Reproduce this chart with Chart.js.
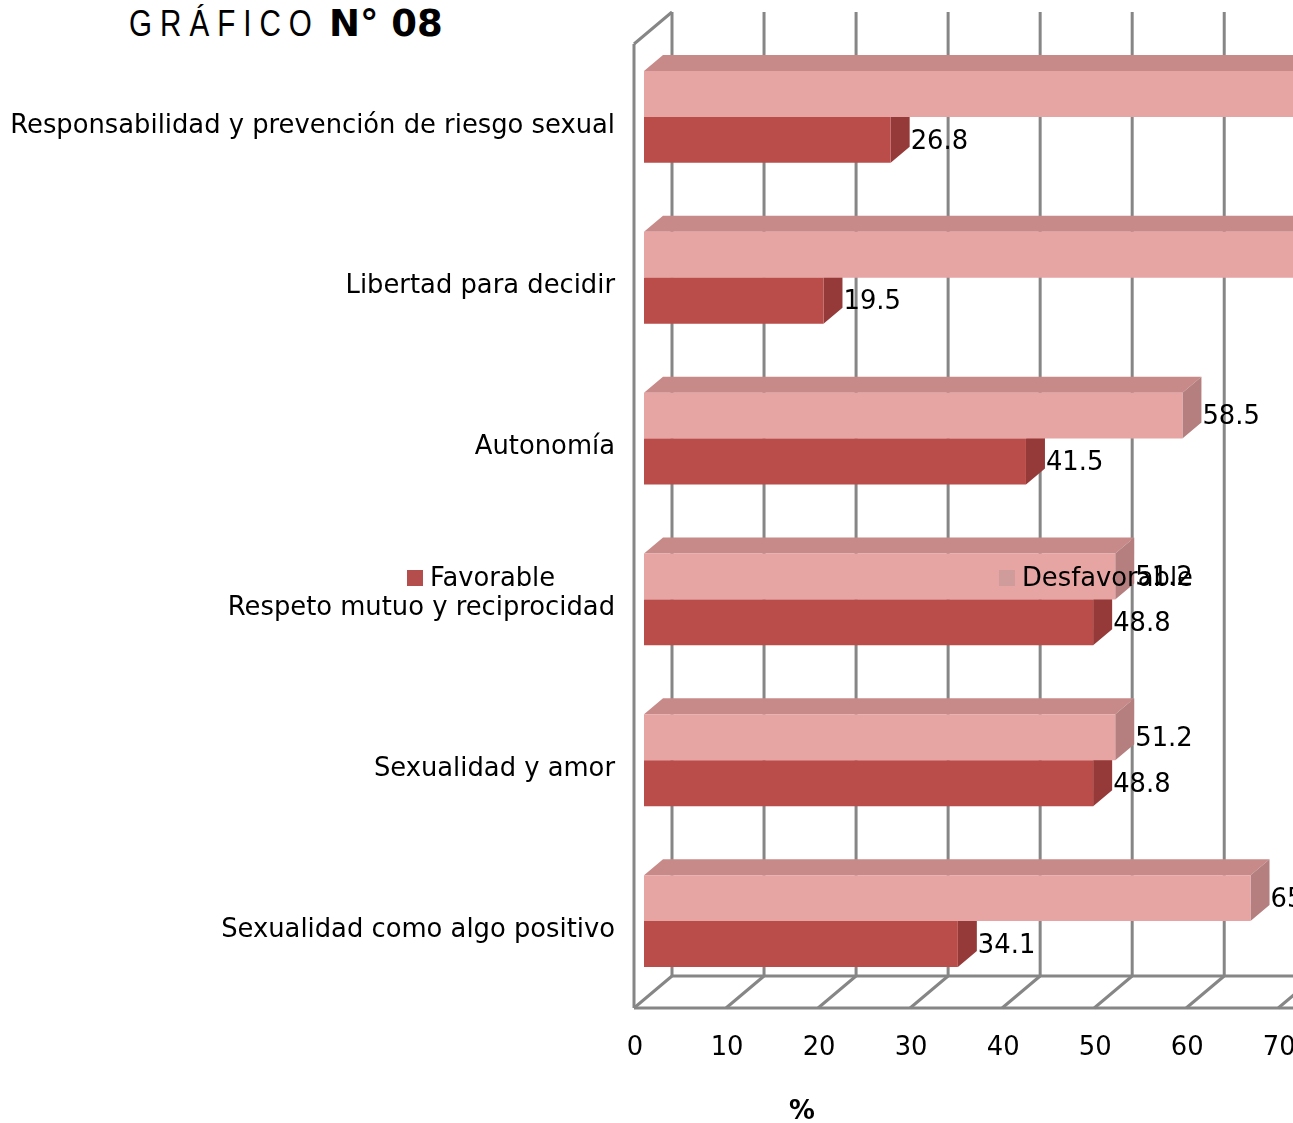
<!DOCTYPE html>
<html>
<head>
<meta charset="utf-8">
<title>Gráfico N° 08</title>
<script src="https://cdn.jsdelivr.net/npm/chart.js@4"></script>
<style>
    html, body { margin: 0; padding: 0; width: 1293px; height: 1123px; overflow: hidden; background: #fff; }
    #wrap { position: relative; width: 1293px; height: 1123px; overflow: hidden; }
    #chart { position: absolute; left: 0; top: 0; }
    .title { position: absolute; top: 2px; line-height: 44px; white-space: nowrap; color: #000; transform-origin: left center; }
    #titleWord { left: 129px; font-family: "Liberation Sans", sans-serif; font-size: 37px; letter-spacing: 10px; transform: scaleX(0.8); }
    #titleNum { left: 329px; font-family: "DejaVu Sans", sans-serif; font-weight: bold; font-size: 37px; }
</style>
</head>
<body>
<div id="wrap">
    <div class="title" id="titleWord">GRÁFICO</div>
    <div class="title" id="titleNum">N° 08</div>
    <canvas id="chart" width="1612" height="1123"></canvas>
</div>
<script>
// Dimensions of sexual attitude, top to bottom
const categories = [
    'Responsabilidad y prevención de riesgo sexual',
    'Libertad para decidir',
    'Autonomía',
    'Respeto mutuo y reciprocidad',
    'Sexualidad y amor',
    'Sexualidad como algo positivo'
];
const favorable = [26.8, 19.5, 41.5, 48.8, 48.8, 34.1];
const desfavorable = [73.2, 80.5, 58.5, 51.2, 51.2, 65.9];
const xTicks = [0, 10, 20, 30, 40, 50, 60, 70, 80, 90, 100];

const FONT = '"DejaVu Sans", sans-serif';
const FONT_SIZE = 25.8;
const GRID = '#868686';

// Depth of the fake 3D box and of the bars inside it
const wall = { front: -10, back: 28, top: 12, backFloor: 976, frontFloor: 1008, frontTop: 44 };
const barDepth = { x: 19, y: 16 };

// Same order as the datasets: the lighter bar sits above the darker one
const shades = [
    { front: '#E6A4A2', top: '#C78A89', side: '#B57F7F', legend: '#D09C9B', legendX: 999 },
    { front: '#BA4D4A', top: '#A5433F', side: '#953A38', legend: '#B44E4C', legendX: 407 }
];

function polygon(ctx, points, color) {
    ctx.fillStyle = color;
    ctx.beginPath();
    points.forEach((p, i) => i ? ctx.lineTo(p[0], p[1]) : ctx.moveTo(p[0], p[1]));
    ctx.closePath();
    ctx.fill();
}

function line(ctx, x1, y1, x2, y2) {
    ctx.beginPath();
    ctx.moveTo(x1, y1);
    ctx.lineTo(x2, y2);
    ctx.stroke();
}

// Walls and floor go behind everything, then the top and side faces of each bar
const box3d = {
    id: 'box3d',
    beforeDatasetsDraw(chart) {
        const ctx = chart.ctx;
        const x = chart.scales.x;
        const right = chart.width;

        ctx.save();
        ctx.strokeStyle = GRID;
        ctx.lineWidth = 3;
        xTicks.forEach(v => {
            const px = x.getPixelForValue(v);
            line(ctx, px + wall.back, wall.top, px + wall.back, wall.backFloor);
            line(ctx, px + wall.back, wall.backFloor, px + wall.front, wall.frontFloor);
        });
        const x0 = x.getPixelForValue(0);
        line(ctx, x0 + wall.front, wall.frontTop, x0 + wall.front, wall.frontFloor);
        line(ctx, x0 + wall.front, wall.frontTop, x0 + wall.back, wall.top);
        line(ctx, x0 + wall.back, wall.backFloor, right, wall.backFloor);
        line(ctx, x0 + wall.front, wall.frontFloor, right, wall.frontFloor);

        chart.data.datasets.forEach((ds, d) => {
            chart.getDatasetMeta(d).data.forEach(bar => {
                const top = bar.y - bar.height / 2;
                const bottom = bar.y + bar.height / 2;
                polygon(ctx, [[bar.base, top], [bar.x, top], [bar.x + barDepth.x, top - barDepth.y], [bar.base + barDepth.x, top - barDepth.y]], shades[d].top);
                polygon(ctx, [[bar.x, top], [bar.x + barDepth.x, top - barDepth.y], [bar.x + barDepth.x, bottom - barDepth.y], [bar.x, bottom]], shades[d].side);
            });
        });
        ctx.restore();
    },
    afterDraw(chart) {
        const ctx = chart.ctx;
        ctx.save();
        ctx.fillStyle = '#000';
        ctx.textBaseline = 'middle';
        ctx.textAlign = 'left';
        ctx.font = FONT_SIZE + 'px ' + FONT;

        // value labels sit just past the side face
        chart.data.datasets.forEach((ds, d) => {
            chart.getDatasetMeta(d).data.forEach((bar, i) => {
                ctx.fillText(ds.data[i].toFixed(1), bar.x + barDepth.x + 1, bar.y + 2);
            });
        });

        // legend overlays the plot
        chart.data.datasets.forEach((ds, d) => {
            ctx.fillStyle = shades[d].legend;
            ctx.fillRect(shades[d].legendX, 570, 16, 16);
            ctx.fillStyle = '#000';
            ctx.fillText(ds.label, shades[d].legendX + 23, 579);
        });

        ctx.font = 'bold ' + FONT_SIZE + 'px ' + FONT;
        ctx.textAlign = 'center';
        ctx.fillText('%', 802, 1112);
        ctx.restore();
    }
};

new Chart(document.getElementById('chart').getContext('2d'), {
    type: 'bar',
    data: {
        labels: categories,
        datasets: [
            { label: 'Desfavorable', data: desfavorable, backgroundColor: shades[0].front },
            { label: 'Favorable', data: favorable, backgroundColor: shades[1].front }
        ]
    },
    plugins: [box3d],
    options: {
        indexAxis: 'y',
        responsive: false,
        animation: false,
        devicePixelRatio: 1,
        layout: { padding: { top: 27, right: 21 } },
        datasets: { bar: { barPercentage: 1, categoryPercentage: 0.571 } },
        scales: {
            x: {
                min: 0,
                max: 100,
                afterBuildTicks(scale) { scale.ticks = xTicks.map(value => ({ value })); },
                afterFit(scale) { scale.height = 121.5; },
                grid: { display: false },
                border: { display: false },
                ticks: {
                    color: '#000',
                    font: { family: FONT, size: FONT_SIZE },
                    padding: 23,
                    labelOffset: -9,
                    maxRotation: 0,
                    autoSkip: false
                }
            },
            y: {
                afterFit(scale) { scale.width = 644; },
                grid: { display: false },
                border: { display: false },
                ticks: {
                    color: '#000',
                    font: { family: FONT, size: FONT_SIZE },
                    padding: 21,
                    labelOffset: 9,
                    autoSkip: false
                }
            }
        },
        plugins: {
            legend: { display: false },
            title: { display: false },
            tooltip: { enabled: false }
        }
    }
});
</script>
</body>
</html>
